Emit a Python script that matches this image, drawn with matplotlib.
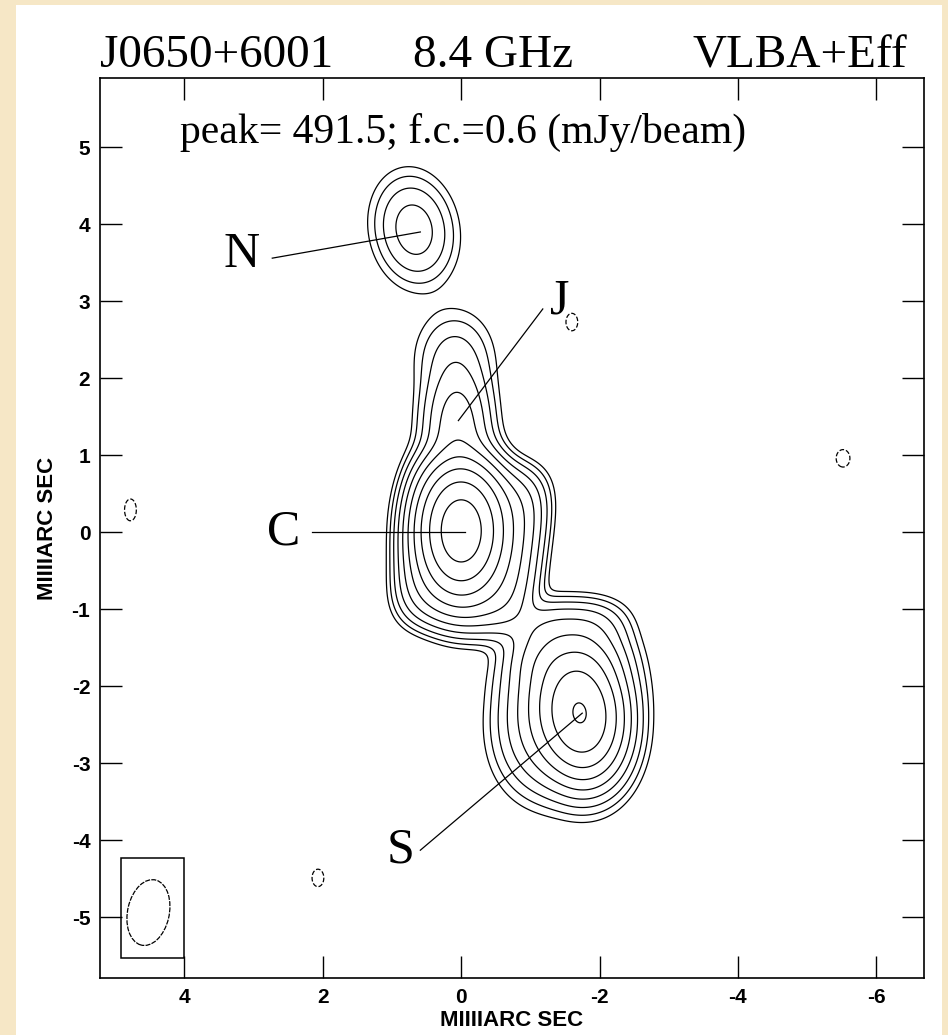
import numpy as np
import matplotlib.pyplot as plt
from matplotlib.patches import Ellipse, Rectangle

plt.rcParams['axes.unicode_minus'] = False

# source model: components (offset mas, peak mJy/beam, widths mas, PA deg, edge steepness)
comp_name = ['C core', 'C plateau', 'jet A', 'jet B', 'S core', 'S plateau', 'S north',
             'N', 'neg1', 'neg2', 'neg3', 'neg4']
comp_x = [0.00, -0.15, 0.06, 0.10, -1.72, -1.52, -1.55, 0.68, -1.60, -5.52, 4.78, 2.07]
comp_y = [0.02, -0.18, 1.40, 2.30, -2.35, -2.30, -1.45, 3.93, 2.73, 0.96, 0.29, -4.49]
comp_peak = [460.0, 30.0, 14.0, 2.6, 140.0, 22.0, 9.0, 7.0, -0.75, -0.75, -0.75, -0.75]
comp_maj = [0.95, 1.66, 1.00, 0.80, 0.95, 1.40, 0.80, 0.88, 0.40, 0.40, 0.50, 0.40]
comp_min = [0.68, 1.50, 0.60, 0.75, 0.70, 1.20, 1.20, 0.70, 0.30, 0.35, 0.30, 0.30]
comp_pa = [0, 8, 0, 0, -10, 5, 0, -15, 0, 0, 0, 0]
comp_steep = [1, 2, 1, 1, 1, 1.2, 1.5, 1, 1, 1, 1, 1]

peak = 491.5
fc = 0.6
levels_pos = [fc * 2 ** k for k in range(10)]

# labels and pointer lines
lab_text = ['N', 'J', 'C', 'S']
lab_x = [3.18, -1.43, 2.56, 0.87]
lab_y = [3.60, 3.00, 0.00, -4.13]
line_x0 = [2.73, -1.18, 2.15, 0.59]
line_y0 = [3.56, 2.90, 0.00, -4.13]
line_x1 = [0.59, 0.04, -0.05, -1.75]
line_y1 = [3.90, 1.45, 0.00, -2.35]

# beam
beam_x, beam_y = 4.52, -4.94
beam_w, beam_h, beam_ang = 0.60, 0.87, 15

xg = np.linspace(5.4, -6.9, 900)
yg = np.linspace(-6.0, 6.1, 900)
X, Y = np.meshgrid(xg, yg)
Z = np.zeros_like(X)
for x0, y0, p, a, b, pa, s in zip(comp_x, comp_y, comp_peak, comp_maj, comp_min,
                                  comp_pa, comp_steep):
    t = np.radians(pa)
    dx, dy = X - x0, Y - y0
    dmaj = -dx * np.sin(t) + dy * np.cos(t)
    dmin = dx * np.cos(t) + dy * np.sin(t)
    q = np.abs(dmaj / (a / 2)) ** (2 * s) + np.abs(dmin / (b / 2)) ** (2 * s)
    Z += p * np.exp(-np.log(2) * q)

fig = plt.figure(figsize=(9.48, 10.35), dpi=100)
fig.patch.set_facecolor('#f6e7c6')
bg = fig.add_axes([16 / 948, 0, 926 / 948, 1030 / 1035], zorder=-5)
bg.set_facecolor('white')
bg.set_xticks([])
bg.set_yticks([])
for s in bg.spines.values():
    s.set_visible(False)

ax = fig.add_axes([100 / 948, 57 / 1035, 824 / 948, 900 / 1035])
ax.contour(X, Y, Z, levels=levels_pos, colors='black', linewidths=0.9)
ax.contour(X, Y, Z, levels=[-fc], colors='black', linewidths=0.9,
           linestyles='dashed')

for t, lx, ly, x0, y0, x1, y1 in zip(lab_text, lab_x, lab_y, line_x0, line_y0,
                                     line_x1, line_y1):
    ax.text(lx, ly, t, family='Liberation Serif', fontsize=36,
            ha='center', va='center')
    ax.plot([x0, x1], [y0, y1], color='black', lw=0.9)

ax.add_patch(Rectangle((4.0, -5.53), 0.92, 1.30, fill=False, ec='black', lw=1.1))
ax.add_patch(Ellipse((beam_x, beam_y), beam_w, beam_h, angle=beam_ang, fill=False,
                     ec='black', lw=0.9, ls=(0, (4, 1))))

ax.text(4.07, 5.05, 'peak= 491.5; f.c.=0.6 (mJy/beam)', family='Liberation Serif',
        fontsize=30, ha='left', va='baseline')

ax.set_xlim(5.22, -6.69)
ax.set_ylim(-5.79, 5.9)
ax.set_xticks([4, 2, 0, -2, -4, -6])
ax.set_yticks(range(-5, 6))
ax.tick_params(direction='in', length=16, width=1.0, top=True, right=True,
               labelsize=15, pad=7)
for lbl in ax.get_xticklabels() + ax.get_yticklabels():
    lbl.set_fontweight('bold')
    lbl.set_family('Liberation Sans')
for s in ax.spines.values():
    s.set_linewidth(1.2)
ax.set_xlabel('MIIIIARC SEC', family='Liberation Sans', fontweight='bold',
              fontsize=16, labelpad=2)
ax.set_ylabel('MIIIIARC SEC', family='Liberation Sans', fontweight='bold',
              fontsize=16, labelpad=10)

fig.text(100 / 948, 1 - 67 / 1035, 'J0650+6001', family='Liberation Serif',
         fontsize=34, ha='left', va='baseline')
fig.text(493 / 948, 1 - 67 / 1035, '8.4 GHz', family='Liberation Serif',
         fontsize=34, ha='center', va='baseline')
fig.text(907 / 948, 1 - 67 / 1035, 'VLBA+Eff', family='Liberation Serif',
         fontsize=34, ha='right', va='baseline')

fig.savefig('out.png', dpi=100, facecolor=fig.get_facecolor())
